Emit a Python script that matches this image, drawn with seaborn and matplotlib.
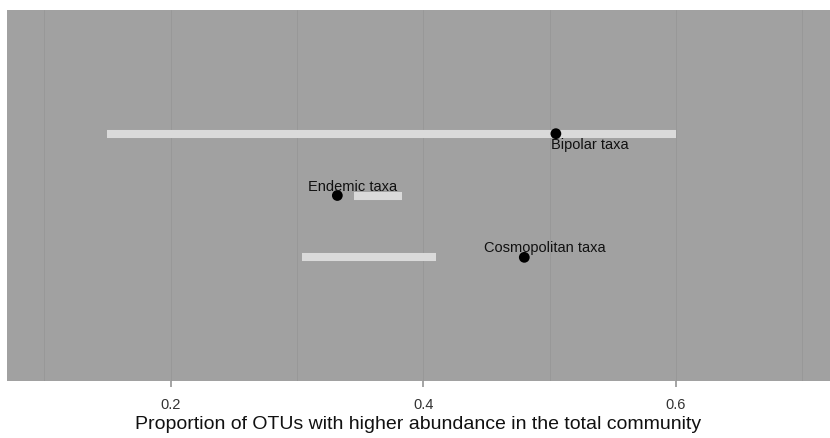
import matplotlib
matplotlib.use("Agg")
import matplotlib.pyplot as plt
import seaborn as sns
import pandas as pd

# values
groups = ["Bipolar taxa", "Endemic taxa", "Cosmopolitan taxa"]
ypos = [3, 2, 1]
point_x = [0.505, 0.332, 0.480]
range_lo = [0.150, 0.345, 0.304]
range_hi = [0.600, 0.383, 0.410]
# label offsets in pixels relative to the point
label_dx = [34, 15, 21]
label_dy = [-11, 9, 9]

df = pd.DataFrame({"group": groups, "y": ypos, "x": point_x,
                   "lo": range_lo, "hi": range_hi})

sns.set_theme(style="white")
plt.rcParams["font.family"] = ["Liberation Sans", "DejaVu Sans"]

fig = plt.figure(figsize=(8.3, 4.38), dpi=100)
ax = fig.add_axes([7 / 830, 1 - 381 / 438, 1 - 7 / 830, (381 - 10) / 438])
ax.set_facecolor("#a1a1a1")

ax.hlines(df["y"], df["lo"], df["hi"], color="#dadada", lw=5.8, zorder=2)
sns.scatterplot(data=df, x="x", y="y", color="black", s=60, edgecolor="none",
                zorder=3, ax=ax, legend=False)

for i, r in df.iterrows():
    ax.annotate(r["group"], (r["x"], r["y"]),
                xytext=(label_dx[i], label_dy[i]), textcoords="offset pixels",
                ha="center", va="center", fontsize=10.5, color="#111111")

ax.set_xlim(0.0705, 0.722)
ax.set_ylim(-1, 5)
ax.set_xticks([0.2, 0.4, 0.6])
ax.set_xticklabels(["0.2", "0.4", "0.6"])
ax.set_xticks([0.1, 0.3, 0.5, 0.7], minor=True)
ax.set_yticks([])
ax.grid(True, which="both", axis="x", color="#979797", lw=0.6)
ax.set_axisbelow(True)
ax.tick_params(axis="x", which="major", bottom=True, length=4, color="#999999",
               labelsize=10.5, labelcolor="#333333", pad=8)
ax.tick_params(axis="x", which="minor", bottom=False)
for s in ax.spines.values():
    s.set_visible(False)

ax.set_xlabel("Proportion of OTUs with higher abundance in the total community",
              fontsize=14, labelpad=3, color="#111111")
ax.set_ylabel("")

fig.savefig("out.png", dpi=100)
